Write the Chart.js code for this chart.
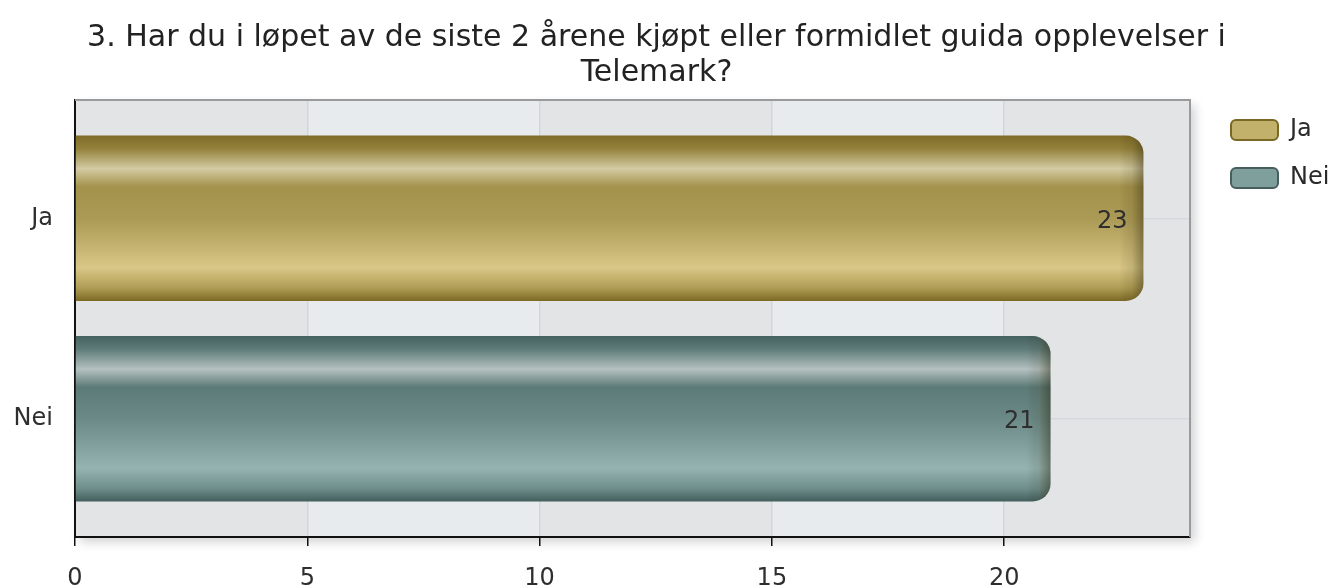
<!DOCTYPE html>
<html>
<head>
<meta charset="utf-8">
<script src="https://cdn.jsdelivr.net/npm/chart.js@4/dist/chart.umd.min.js"></script>
<style>
  html, body { margin: 0; padding: 0; background: #fff; }
  #wrap { width: 1337px; height: 587px; position: relative; }
</style>
</head>
<body>
<div id="wrap"><canvas id="chart"></canvas></div>
<script>
  const TITLE = ["3. Har du i løpet av de siste 2 årene kjøpt eller formidlet guida opplevelser i", "Telemark?"];
  const categories = ["Ja", "Nei"];
  const jaValues = [23, null];
  const neiValues = [null, 21];
  const xMax = 24;
  const xStep = 5;

  const BAR_PCT = 0.825;
  const STOPS = [
    [[0, "#7f6b27"], [0.08, "#94823c"], [0.2, "#d3cba3"], [0.31, "#a3924b"], [0.5, "#ab9a55"], [0.8, "#d8c786"], [0.92, "#b09d55"], [1, "#7c6925"]],
    [[0, "#456260"], [0.08, "#5f7c7a"], [0.2, "#b4c1c0"], [0.31, "#5c7a77"], [0.5, "#6b8a87"], [0.8, "#95b3b1"], [0.92, "#6f8f8d"], [1, "#435f5d"]]
  ];
  const SOLID = ["#c2b16a", "#7f9f9d"];
  const EDGE = ["#7a6724", "#465f5d"];
  const FAMILY = "'DejaVu Sans', Verdana, sans-serif";

  function barFill(ctx) {
    const chart = ctx.chart;
    const y = chart.scales.y;
    if (!y || ctx.dataIndex === undefined) return SOLID[ctx.datasetIndex];
    const band = Math.abs(y.getPixelForValue(1) - y.getPixelForValue(0));
    const c = y.getPixelForValue(ctx.dataIndex);
    const half = band * BAR_PCT / 2;
    const g = chart.ctx.createLinearGradient(0, c - half, 0, c + half);
    STOPS[ctx.datasetIndex].forEach(s => g.addColorStop(s[0], s[1]));
    return g;
  }

  const plotDecor = {
    id: "plotDecor",
    beforeInit(chart) {
      const legend = chart.legend;
      const fit = legend.fit;
      legend.fit = function () {
        fit.call(this);
        this.width = 147;
      };
    },
    afterLayout(chart) {
      chart.legend.left += 17;
      chart.legend.top -= 6;
      chart.titleBlock.right -= 24;
    },
    beforeDraw(chart) {
      const { ctx, chartArea: a, scales: { x } } = chart;
      ctx.save();
      ctx.shadowColor = "rgba(0,0,0,0.18)";
      ctx.shadowBlur = 10;
      ctx.shadowOffsetX = 5;
      ctx.shadowOffsetY = 5;
      ctx.fillStyle = "#e3e4e6";
      ctx.fillRect(a.left, a.top, a.right - a.left, a.bottom - a.top);
      ctx.restore();
      const vals = x.ticks.map(t => t.value);
      vals.forEach((v, i) => {
        const x0 = x.getPixelForValue(v);
        const x1 = i + 1 < vals.length ? x.getPixelForValue(vals[i + 1]) : a.right;
        ctx.fillStyle = i % 2 === 0 ? "#e3e4e6" : "#e8ebee";
        ctx.fillRect(x0, a.top, x1 - x0, a.bottom - a.top);
      });
    },
    beforeDatasetsDraw(chart) {
      const { ctx, chartArea: a } = chart;
      ctx.save();
      ctx.strokeStyle = "#9a9a9a";
      ctx.lineWidth = 2;
      ctx.beginPath();
      ctx.moveTo(a.left, a.top);
      ctx.lineTo(a.right, a.top);
      ctx.lineTo(a.right, a.bottom);
      ctx.stroke();
      ctx.restore();
    },
    afterDatasetsDraw(chart) {
      const ctx = chart.ctx;
      chart.data.datasets.forEach((ds, di) => {
        const meta = chart.getDatasetMeta(di);
        meta.data.forEach((bar, i) => {
          const v = ds.data[i];
          if (v === null || v === undefined) return;
          const top = bar.y - bar.height / 2;
          ctx.save();
          ctx.beginPath();
          ctx.roundRect(bar.base, top, bar.x - bar.base, bar.height, [0, 18, 18, 0]);
          ctx.clip();
          const g = ctx.createLinearGradient(bar.x - 24, 0, bar.x, 0);
          g.addColorStop(0, "rgba(0,0,0,0)");
          g.addColorStop(0.5, "rgba(60,50,10,0.12)");
          g.addColorStop(1, "rgba(40,35,10,0.45)");
          ctx.fillStyle = g;
          ctx.fillRect(bar.x - 24, top, 24, bar.height);
          ctx.restore();

          ctx.save();
          ctx.font = "24px " + FAMILY;
          ctx.fillStyle = "#2e2e2e";
          ctx.textAlign = "right";
          ctx.textBaseline = "middle";
          ctx.fillText(String(v), bar.x - 16, bar.y + 3);
          ctx.restore();
        });
      });
    }
  };

  const font = { family: FAMILY, size: 24 };

  new Chart(document.getElementById("chart"), {
    type: "bar",
    data: {
      labels: categories,
      datasets: [
        { label: "Ja", data: jaValues, backgroundColor: barFill, borderWidth: 0, borderRadius: 18 },
        { label: "Nei", data: neiValues, backgroundColor: barFill, borderWidth: 0, borderRadius: 18 }
      ]
    },
    options: {
      indexAxis: "y",
      responsive: true,
      maintainAspectRatio: false,
      animation: false,
      layout: { padding: 0 },
      datasets: { bar: { grouped: false, categoryPercentage: 1, barPercentage: BAR_PCT } },
      plugins: {
        title: {
          display: true,
          text: TITLE,
          color: "#222",
          font: { family: FAMILY, size: 30, weight: "normal", lineHeight: "35px" },
          padding: { top: 21, bottom: 9 }
        },
        legend: {
          position: "right",
          align: "start",
          fullSize: false,
          labels: {
            boxWidth: 47,
            boxHeight: 20,
            padding: 24,
            color: "#222",
            font: font,
            generateLabels(chart) {
              return chart.data.datasets.map((ds, i) => ({
                text: ds.label,
                fillStyle: SOLID[i],
                strokeStyle: EDGE[i],
                fontColor: "#2a2a2a",
                lineWidth: 2,
                borderRadius: 5,
                datasetIndex: i,
                hidden: false
              }));
            }
          }
        },
        tooltip: { enabled: false }
      },
      scales: {
        x: {
          min: 0,
          max: xMax,
          ticks: { stepSize: xStep, includeBounds: false, color: "#2e2e2e", font: font, padding: 18 },
          grid: { color: "#d3d5d8", tickColor: "#111", tickLength: 9, lineWidth: 1.5 },
          border: { color: "#111", width: 2 },
          afterFit(s) { s.height = 50; }
        },
        y: {
          ticks: { color: "#2e2e2e", font: font, padding: 22 },
          grid: { color: "#d6d8db", offset: false, drawTicks: false, lineWidth: 1.5 },
          border: { color: "#111", width: 2 },
          afterBuildTicks(s) {
            s._startValue = -0.59;
            s._valueRange = 2.18;
          },
          afterFit(s) { s.width = 75; }
        }
      }
    },
    plugins: [plotDecor]
  });
</script>
</body>
</html>
